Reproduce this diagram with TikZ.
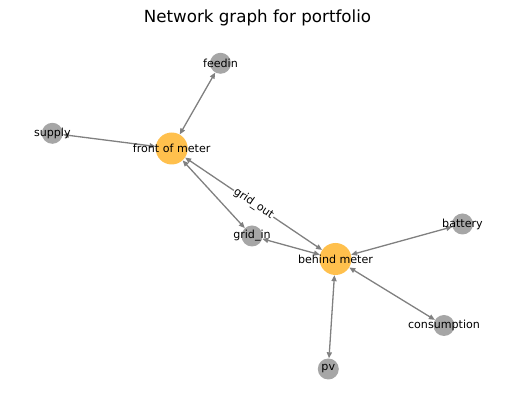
\documentclass[tikz,border=0pt]{standalone}
\usepackage{fontspec}
\setmainfont{DejaVu Sans}
\usetikzlibrary{arrows.meta}
\newlength{\du}
\setlength{\du}{1pt}
\definecolor{busfill}{rgb}{1.000000, 0.752941, 0.301961}
\definecolor{compfill}{rgb}{0.650980, 0.650980, 0.650980}
\definecolor{edgecolor}{rgb}{0.501961, 0.501961, 0.501961}
\tikzset{
  bus/.style={circle, fill=busfill, inner sep=0pt, minimum size=32\du},
  comp/.style={circle, fill=compfill, inner sep=0pt, minimum size=21\du},
  txt/.style={font=\fontsize{11.1}{13}\selectfont, inner sep=0pt},
  link/.style={draw=edgecolor, line width=1.3\du, {Triangle[length=6pt,width=5pt]}-{Triangle[length=6pt,width=5pt]}},
}
\begin{document}
\begin{tikzpicture}
\pgftransformxscale{1.000000}
\pgftransformyscale{-1.000000}
\useasboundingbox (0\du,0\du) rectangle (515\du,411\du);
\node[font=\fontsize{16.7}{20}\selectfont] (title) at (257.5\du,18\du){Network graph for portfolio};
% buses
\node[bus] (front) at (171.7\du,148.5\du){};
\node[bus] (behind) at (335.5\du,259\du){};
% components
\node[comp] (feedin) at (220.5\du,63.3\du){};
\node[comp] (supply) at (52.3\du,133.3\du){};
\node[comp] (gridin) at (252\du,236\du){};
\node[comp] (battery) at (462.5\du,224\du){};
\node[comp] (consumption) at (444\du,325.5\du){};
\node[comp] (pv) at (328.3\du,369\du){};
% edges
\draw[link] (front) -- (feedin);
\draw[link] (front) -- (supply);
\draw[link] (front) -- (gridin);
\draw[link] (behind) -- (gridin);
\draw[link] (behind) -- node[midway, rotate=-34, fill=white, txt, inner sep=1pt] (gridout){grid\_out} (front);
\draw[link] (behind) -- (battery);
\draw[link] (behind) -- (consumption);
\draw[link] (behind) -- (pv);
% texts
\node[txt] (front-t) at (front){front of meter};
\node[txt] (behind-t) at (behind){behind meter};
\node[txt] (feedin-t) at (feedin){feedin};
\node[txt] (supply-t) at (supply){supply};
\node[txt] (gridin-t) at (gridin){grid\_in};
\node[txt] (battery-t) at (battery){battery};
\node[txt] (consumption-t) at (consumption){consumption};
\node[txt] (pv-t) at (pv){pv};
\end{tikzpicture}
\end{document}
